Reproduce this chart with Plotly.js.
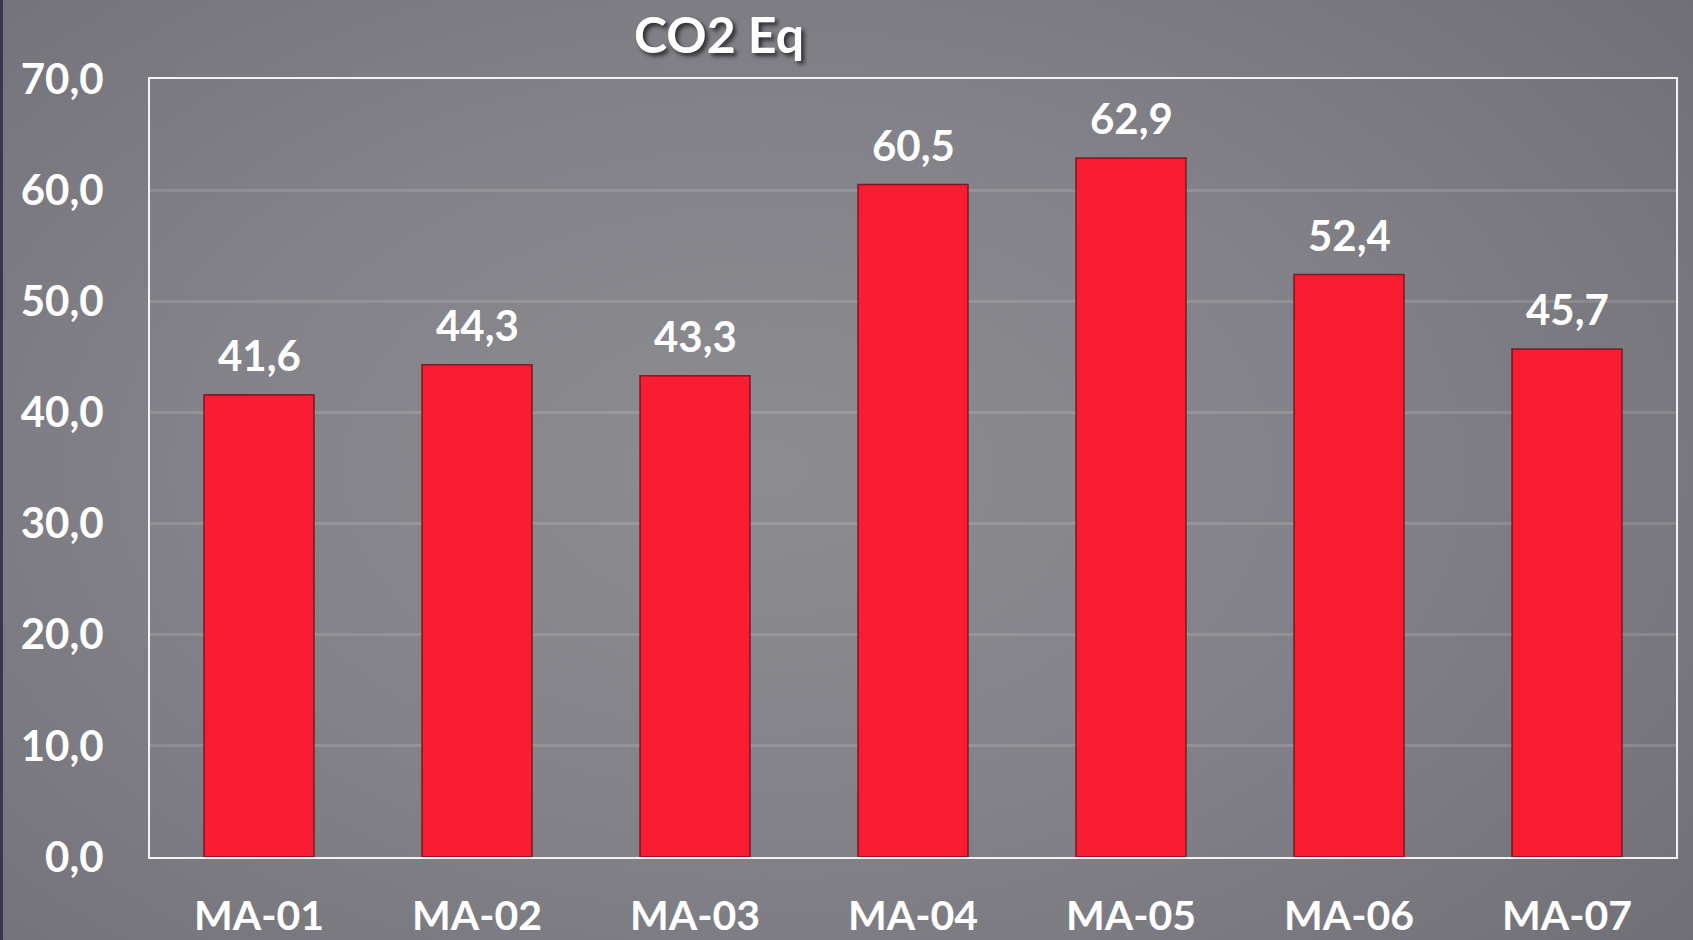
<!DOCTYPE html>
<html>
<head>
<meta charset="utf-8">
<script src="https://cdn.plot.ly/plotly-3.0.1.min.js"></script>
<style>
  html, body { margin: 0; padding: 0; }
  body {
    width: 1693px; height: 940px; overflow: hidden;
    background: radial-gradient(ellipse 75% 85% at 45% 50%, #8d8c91 0%, #838288 45%, #77757c 80%, #6f6d74 100%);
  }
  #strip { position: absolute; left: 0; top: 0; width: 3px; height: 940px; background: #3a3650; }
  #chart { width: 1693px; height: 940px; }
</style>
</head>
<body>
<div id="strip"></div>
<div id="chart"></div>
<script>
const categories = ["MA-01", "MA-02", "MA-03", "MA-04", "MA-05", "MA-06", "MA-07"];
const co2eq = [41.6, 44.3, 43.3, 60.5, 62.9, 52.4, 45.7];
const yTicks = [0, 10, 20, 30, 40, 50, 60, 70];
const chartTitle = "CO2 Eq";

const fontFam = "Lato, 'Open Sans', sans-serif";

const trace = {
  type: "bar",
  x: categories,
  y: co2eq,
  marker: { color: "#f81d32", line: { color: "rgba(90,5,15,0.7)", width: 1.5 } },
  hoverinfo: "x+y"
};

const annotations = categories.map((c, i) => ({
  x: c, y: co2eq[i], xref: "x", yref: "y",
  text: co2eq[i].toFixed(1).replace(".", ","),
  showarrow: false, yanchor: "bottom", yshift: 13,
  font: { family: fontFam, size: 42, color: "#ffffff", weight: 700 }
}));

const layout = {
  width: 1693, height: 940,
  paper_bgcolor: "rgba(0,0,0,0)",
  plot_bgcolor: "rgba(0,0,0,0)",
  separators: ", ",
  margin: { l: 150, r: 17, t: 79, b: 83, pad: 0 },
  bargap: 0.495,
  showlegend: false,
  title: {
    text: chartTitle,
    x: 719 / 1693, xanchor: "center", xref: "container",
    y: 1 - 35 / 940, yanchor: "middle", yref: "container",
    font: { family: fontFam, size: 50, color: "#ffffff", weight: 700, shadow: "3px 3px 4px rgba(0,0,0,0.65)" }
  },
  xaxis: {
    type: "category",
    showgrid: false,
    showline: true, linecolor: "#f2f2f2", linewidth: 2, mirror: true,
    ticks: "", ticklabelstandoff: 22,
    tickfont: { family: fontFam, size: 41, color: "#ffffff", weight: 700 },
    zeroline: false
  },
  yaxis: {
    range: [0, 70],
    tickvals: yTicks,
    tickformat: ".1f",
    showgrid: true, gridcolor: "rgba(255,255,255,0.13)", gridwidth: 3,
    showline: true, linecolor: "#f2f2f2", linewidth: 2, mirror: true,
    zeroline: false,
    ticks: "", ticklabelstandoff: 36,
    tickfont: { family: fontFam, size: 42, color: "#ffffff", weight: 700 }
  },
  annotations: annotations
};

Plotly.newPlot("chart", [trace], layout, { displayModeBar: false, responsive: false });
</script>
</body>
</html>
